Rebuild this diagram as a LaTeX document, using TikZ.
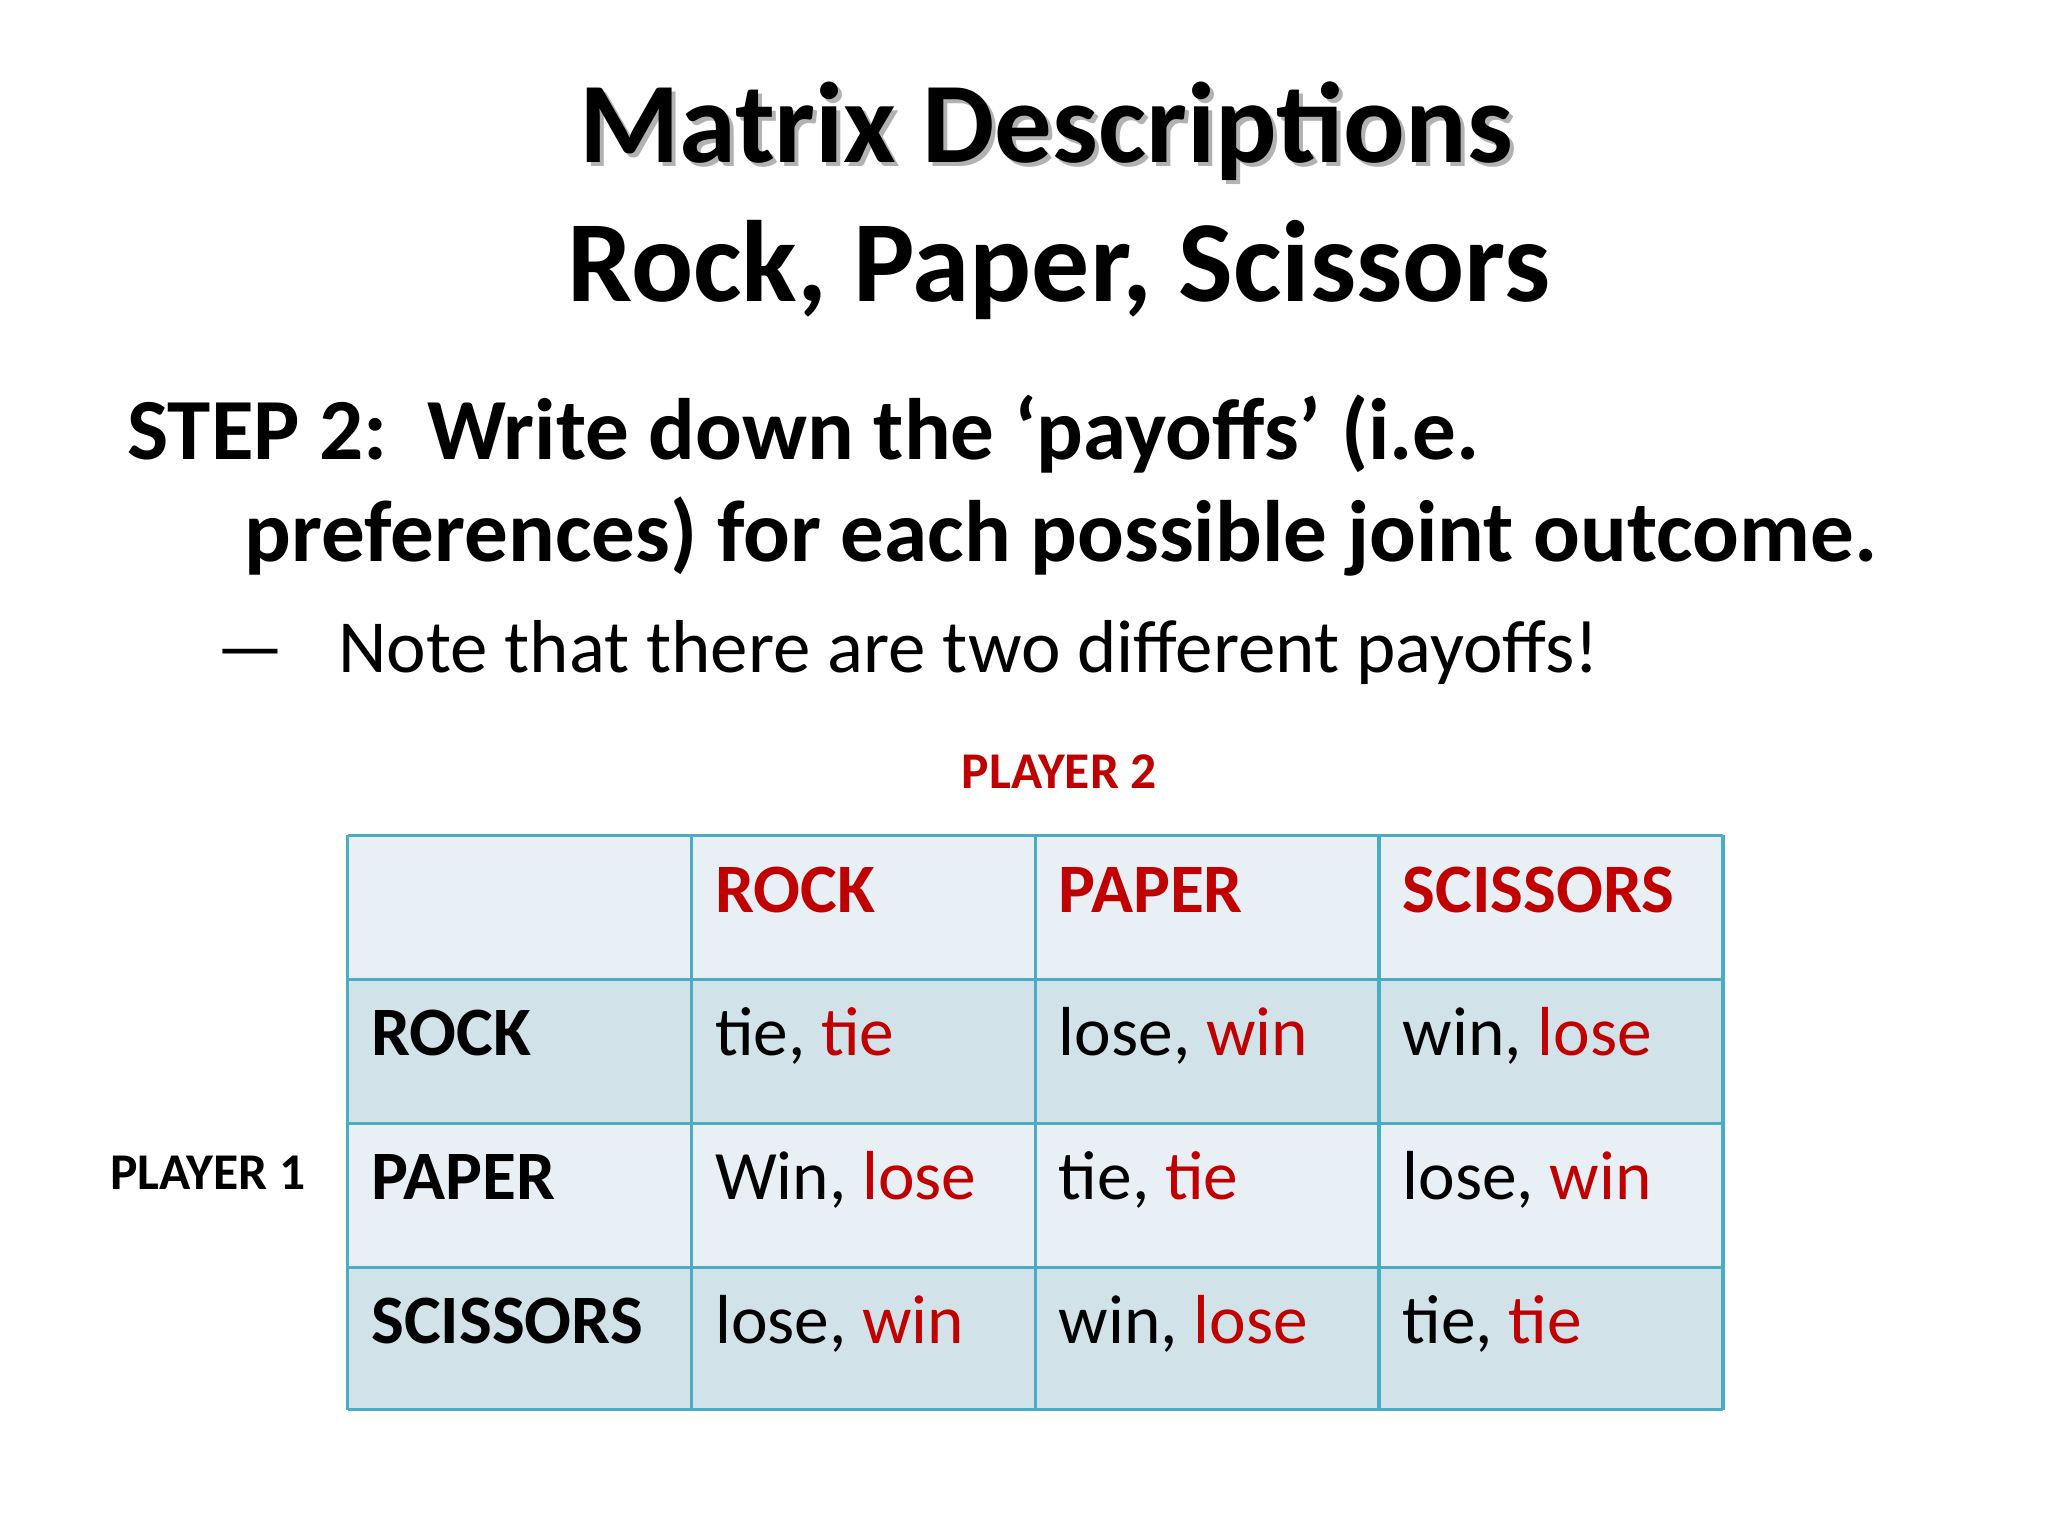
\documentclass[tikz,border=0pt]{standalone}
\usepackage{fontspec}
\setmainfont{Carlito}
\definecolor{rd}{HTML}{C00000}
\definecolor{bd}{HTML}{4BACC6}
\definecolor{lt}{HTML}{E9F0F5}
\definecolor{dk}{HTML}{D2E2E9}
\begin{document}
\begin{tikzpicture}[x=0.01cm,y=-0.01cm,
  cell/.style={anchor=base west,inner sep=0pt,font=\fontsize{14.8}{16}\selectfont},
  hd/.style={cell,font=\fontsize{14.8}{16}\selectfont\bfseries},
  pl/.style={anchor=base west,inner sep=0pt,font=\fontsize{11}{13}\selectfont\bfseries}]
\useasboundingbox (0,0) rectangle (1537,1153);
\fill[white] (0,0) rectangle (1537,1153);
% titles
\node[anchor=base,inner sep=0pt,font=\fontsize{24.5}{28}\selectfont\bfseries,text=gray!60] (tsh) at (788,125) {Matrix Descriptions};
\node[anchor=base,inner sep=0pt,font=\fontsize{24.5}{28}\selectfont\bfseries] (t1) at (785,122) {Matrix Descriptions};
\node[anchor=base,inner sep=0pt,font=\fontsize{24.7}{28}\selectfont\bfseries] (t2) at (795,226) {Rock, Paper, Scissors};
\node[anchor=base west,inner sep=0pt,font=\fontsize{18.6}{22}\selectfont\bfseries] (s1) at (95,345) {STEP 2:\ \ Write down the ‘payoffs’ (i.e.};
\node[anchor=base west,inner sep=0pt,font=\fontsize{18.6}{22}\selectfont\bfseries] (s2) at (183,421) {preferences) for each possible joint outcome.};
\node[anchor=base west,inner sep=0pt,font=\fontsize{16}{19}\selectfont] (d) at (162,505) {—};
\node[anchor=base west,inner sep=0pt,font=\fontsize{16}{19}\selectfont] (n) at (253,505) {Note that there are two different payoffs!};
\node[pl,anchor=base,text=rd] (p2) at (795,592) {PLAYER 2};
\node[pl] (p1) at (82,893) {PLAYER 1};
% table
\fill[lt] (261,627) rectangle (1293,735);
\fill[dk] (261,735) rectangle (1293,843);
\fill[lt] (261,843) rectangle (1293,951);
\fill[dk] (261,951) rectangle (1293,1058);
\foreach \x in {261,519,777,1035,1293} \draw[bd,line width=0.7pt] (\x,627) -- (\x,1058);
\foreach \y in {627,735,843,951,1058} \draw[bd,line width=0.7pt] (261,\y) -- (1293,\y);
\node[hd,text=rd] (h1) at (536,685) {ROCK};
\node[hd,text=rd] (h2) at (794,685) {PAPER};
\node[hd,text=rd] (h3) at (1052,685) {SCISSORS};
\node[hd] (r1) at (278,792) {ROCK};
\node[hd] (r2) at (278,900) {PAPER};
\node[hd] (r3) at (278,1008) {SCISSORS};
\node[cell] (c11) at (536,792) {tie, \textcolor{rd}{tie}};
\node[cell] (c12) at (794,792) {lose, \textcolor{rd}{win}};
\node[cell] (c13) at (1052,792) {win, \textcolor{rd}{lose}};
\node[cell] (c21) at (536,900) {Win, \textcolor{rd}{lose}};
\node[cell] (c22) at (794,900) {tie, \textcolor{rd}{tie}};
\node[cell] (c23) at (1052,900) {lose, \textcolor{rd}{win}};
\node[cell] (c31) at (536,1008) {lose, \textcolor{rd}{win}};
\node[cell] (c32) at (794,1008) {win, \textcolor{rd}{lose}};
\node[cell] (c33) at (1052,1008) {tie, \textcolor{rd}{tie}};
\end{tikzpicture}
\end{document}
